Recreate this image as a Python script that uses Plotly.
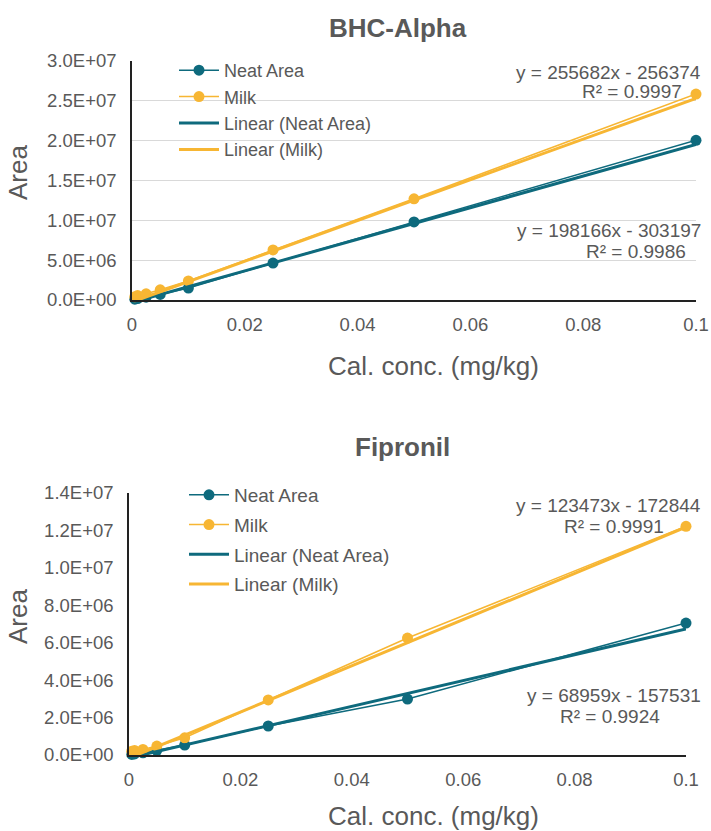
import plotly.graph_objects as go

# ---------------- data ----------------
conc = [0.0005, 0.001, 0.0025, 0.005, 0.01, 0.025, 0.05, 0.1]

bhc_neat = [0.10e6, 0.18e6, 0.35e6, 0.70e6, 1.50e6, 4.64e6, 9.80e6, 20.05e6]
bhc_milk = [0.40e6, 0.55e6, 0.78e6, 1.28e6, 2.40e6, 6.28e6, 12.70e6, 25.85e6]

fip_neat = [0.03e6, 0.06e6, 0.12e6, 0.25e6, 0.53e6, 1.55e6, 2.99e6, 7.05e6]
fip_milk = [0.20e6, 0.24e6, 0.30e6, 0.48e6, 0.92e6, 2.94e6, 6.25e6, 12.22e6]

# trendline coefficients (Excel, x in µg/kg)
bhc_neat_fit = (198166, -303197, 0.9986)
bhc_milk_fit = (255682, -256374, 0.9997)
fip_neat_fit = (68959, -157531, 0.9924)
fip_milk_fit = (123473, -172844, 0.9991)

x_ticks = [0, 0.02, 0.04, 0.06, 0.08, 0.1]
x_ticktext = ["0", "0.02", "0.04", "0.06", "0.08", "0.1"]
bhc_yticks = [0, 5e6, 1e7, 1.5e7, 2e7, 2.5e7, 3e7]
bhc_yticktext = ["0.0E+00", "5.0E+06", "1.0E+07", "1.5E+07", "2.0E+07", "2.5E+07", "3.0E+07"]
fip_yticks = [0, 2e6, 4e6, 6e6, 8e6, 1e7, 1.2e7, 1.4e7]
fip_yticktext = ["0.0E+00", "2.0E+06", "4.0E+06", "6.0E+06", "8.0E+06", "1.0E+07", "1.2E+07", "1.4E+07"]

titles = ["BHC-Alpha", "Fipronil"]
x_title = "Cal. conc. (mg/kg)"
y_title = "Area"

# ---------------- styling ----------------
W, H = 711, 831
TEAL = "#0e6a7d"
GOLD = "#f7b633"
TXT = "#595959"
FONT = "Liberation Sans"

def px(x):
    return x / W

def py(y):
    return 1 - y / H

def trend(fit):
    m, b, _ = fit
    xs = [min(conc), max(conc)]
    return xs, [m * x * 1000 + b for x in xs]

fig = go.Figure()

panels = [
    dict(xa="x", ya="y", neat=bhc_neat, milk=bhc_milk, nf=bhc_neat_fit, mf=bhc_milk_fit, legend="legend"),
    dict(xa="x2", ya="y2", neat=fip_neat, milk=fip_milk, nf=fip_neat_fit, mf=fip_milk_fit, legend="legend2"),
]

for i, p in enumerate(panels):
    fig.add_trace(go.Scatter(x=conc, y=p["neat"], mode="lines+markers", name="Neat Area",
                             line=dict(color=TEAL, width=1.5), marker=dict(color=TEAL, size=11),
                             xaxis=p["xa"], yaxis=p["ya"], legend=p["legend"], legendgroup=f"a{i}",
                             cliponaxis=False))
    fig.add_trace(go.Scatter(x=conc, y=p["milk"], mode="lines+markers", name="Milk",
                             line=dict(color=GOLD, width=1.5), marker=dict(color=GOLD, size=11),
                             xaxis=p["xa"], yaxis=p["ya"], legend=p["legend"], legendgroup=f"b{i}",
                             cliponaxis=False))
    tx, ty = trend(p["nf"])
    fig.add_trace(go.Scatter(x=tx, y=ty, mode="lines", name="Linear (Neat Area)",
                             line=dict(color=TEAL, width=3),
                             xaxis=p["xa"], yaxis=p["ya"], legend=p["legend"], legendgroup=f"c{i}"))
    tx, ty = trend(p["mf"])
    fig.add_trace(go.Scatter(x=tx, y=ty, mode="lines", name="Linear (Milk)",
                             line=dict(color=GOLD, width=3),
                             xaxis=p["xa"], yaxis=p["ya"], legend=p["legend"], legendgroup=f"d{i}"))

axis_common = dict(showline=True, linecolor="#222222", linewidth=1.5, ticks="",
                   tickfont=dict(size=18.5, color=TXT, family=FONT), zeroline=False)

fig.update_layout(
    width=W, height=H,
    margin=dict(l=0, r=0, t=0, b=0, autoexpand=False),
    paper_bgcolor="white", plot_bgcolor="white",
    font=dict(family=FONT, color=TXT),
    xaxis=dict(domain=[px(132), px(696)], range=[0, 0.1], tickvals=x_ticks, ticktext=x_ticktext,
               showgrid=False, anchor="y", ticklabelstandoff=7, **axis_common),
    yaxis=dict(domain=[py(300), py(61)], range=[0, 3e7], tickvals=bhc_yticks, ticktext=bhc_yticktext,
               showgrid=True, gridcolor="#d9d9d9", gridwidth=1.2, anchor="x", ticklabelstandoff=10,
               **axis_common),
    xaxis2=dict(domain=[px(129), px(686)], range=[0, 0.1], tickvals=x_ticks, ticktext=x_ticktext,
                showgrid=False, anchor="y2", ticklabelstandoff=7, **axis_common),
    yaxis2=dict(domain=[py(755), py(493)], range=[0, 1.4e7], tickvals=fip_yticks, ticktext=fip_yticktext,
                showgrid=False, anchor="x2", ticklabelstandoff=10, **axis_common),
    legend=dict(x=px(174), y=py(52), xanchor="left", yanchor="top", bgcolor="rgba(0,0,0,0)",
                font=dict(size=18, color=TXT, family=FONT), tracegroupgap=0, itemwidth=40),
    legend2=dict(x=px(184), y=py(476), xanchor="left", yanchor="top", bgcolor="rgba(0,0,0,0)",
                 font=dict(size=19, color=TXT, family=FONT), tracegroupgap=2, itemwidth=40),
)

ann = []
bold = dict(size=26, color=TXT, family=FONT)
reg = dict(size=26, color=TXT, family=FONT)
ann.append(dict(x=px(398), y=py(28), text=f"<b>{titles[0]}</b>", font=bold))
ann.append(dict(x=px(402), y=py(447), text=f"<b>{titles[1]}</b>", font=bold))
ann.append(dict(x=px(433), y=py(366), text=x_title, font=reg))
ann.append(dict(x=px(433), y=py(816), text=x_title, font=reg))
ann.append(dict(x=px(18), y=py(173), text=y_title, font=reg, textangle=-90))
ann.append(dict(x=px(18), y=py(617), text=y_title, font=reg, textangle=-90))

eq_font = dict(size=19, color=TXT, family=FONT)

def eq_text(fit):
    m, b, _ = fit
    sign = "-" if b < 0 else "+"
    return f"y = {m}x {sign} {abs(b)}"

eqs = [
    (bhc_milk_fit, 703, 72, 684, 92),
    (bhc_neat_fit, 703, 231, 688, 251),
    (fip_milk_fit, 703, 505, 666, 526),
    (fip_neat_fit, 703, 695, 662, 716),
]
for fit, x1, y1, x2, y2 in eqs:
    ann.append(dict(x=px(x1), y=py(y1), text=eq_text(fit), font=eq_font, xanchor="right"))
    ann.append(dict(x=px(x2), y=py(y2), text=f"R² = {fit[2]}", font=eq_font, xanchor="right"))

for a in ann:
    a.setdefault("xanchor", "center")
    a.update(xref="paper", yref="paper", yanchor="middle", showarrow=False)
fig.update_layout(annotations=ann)

fig.write_html("out.html")
